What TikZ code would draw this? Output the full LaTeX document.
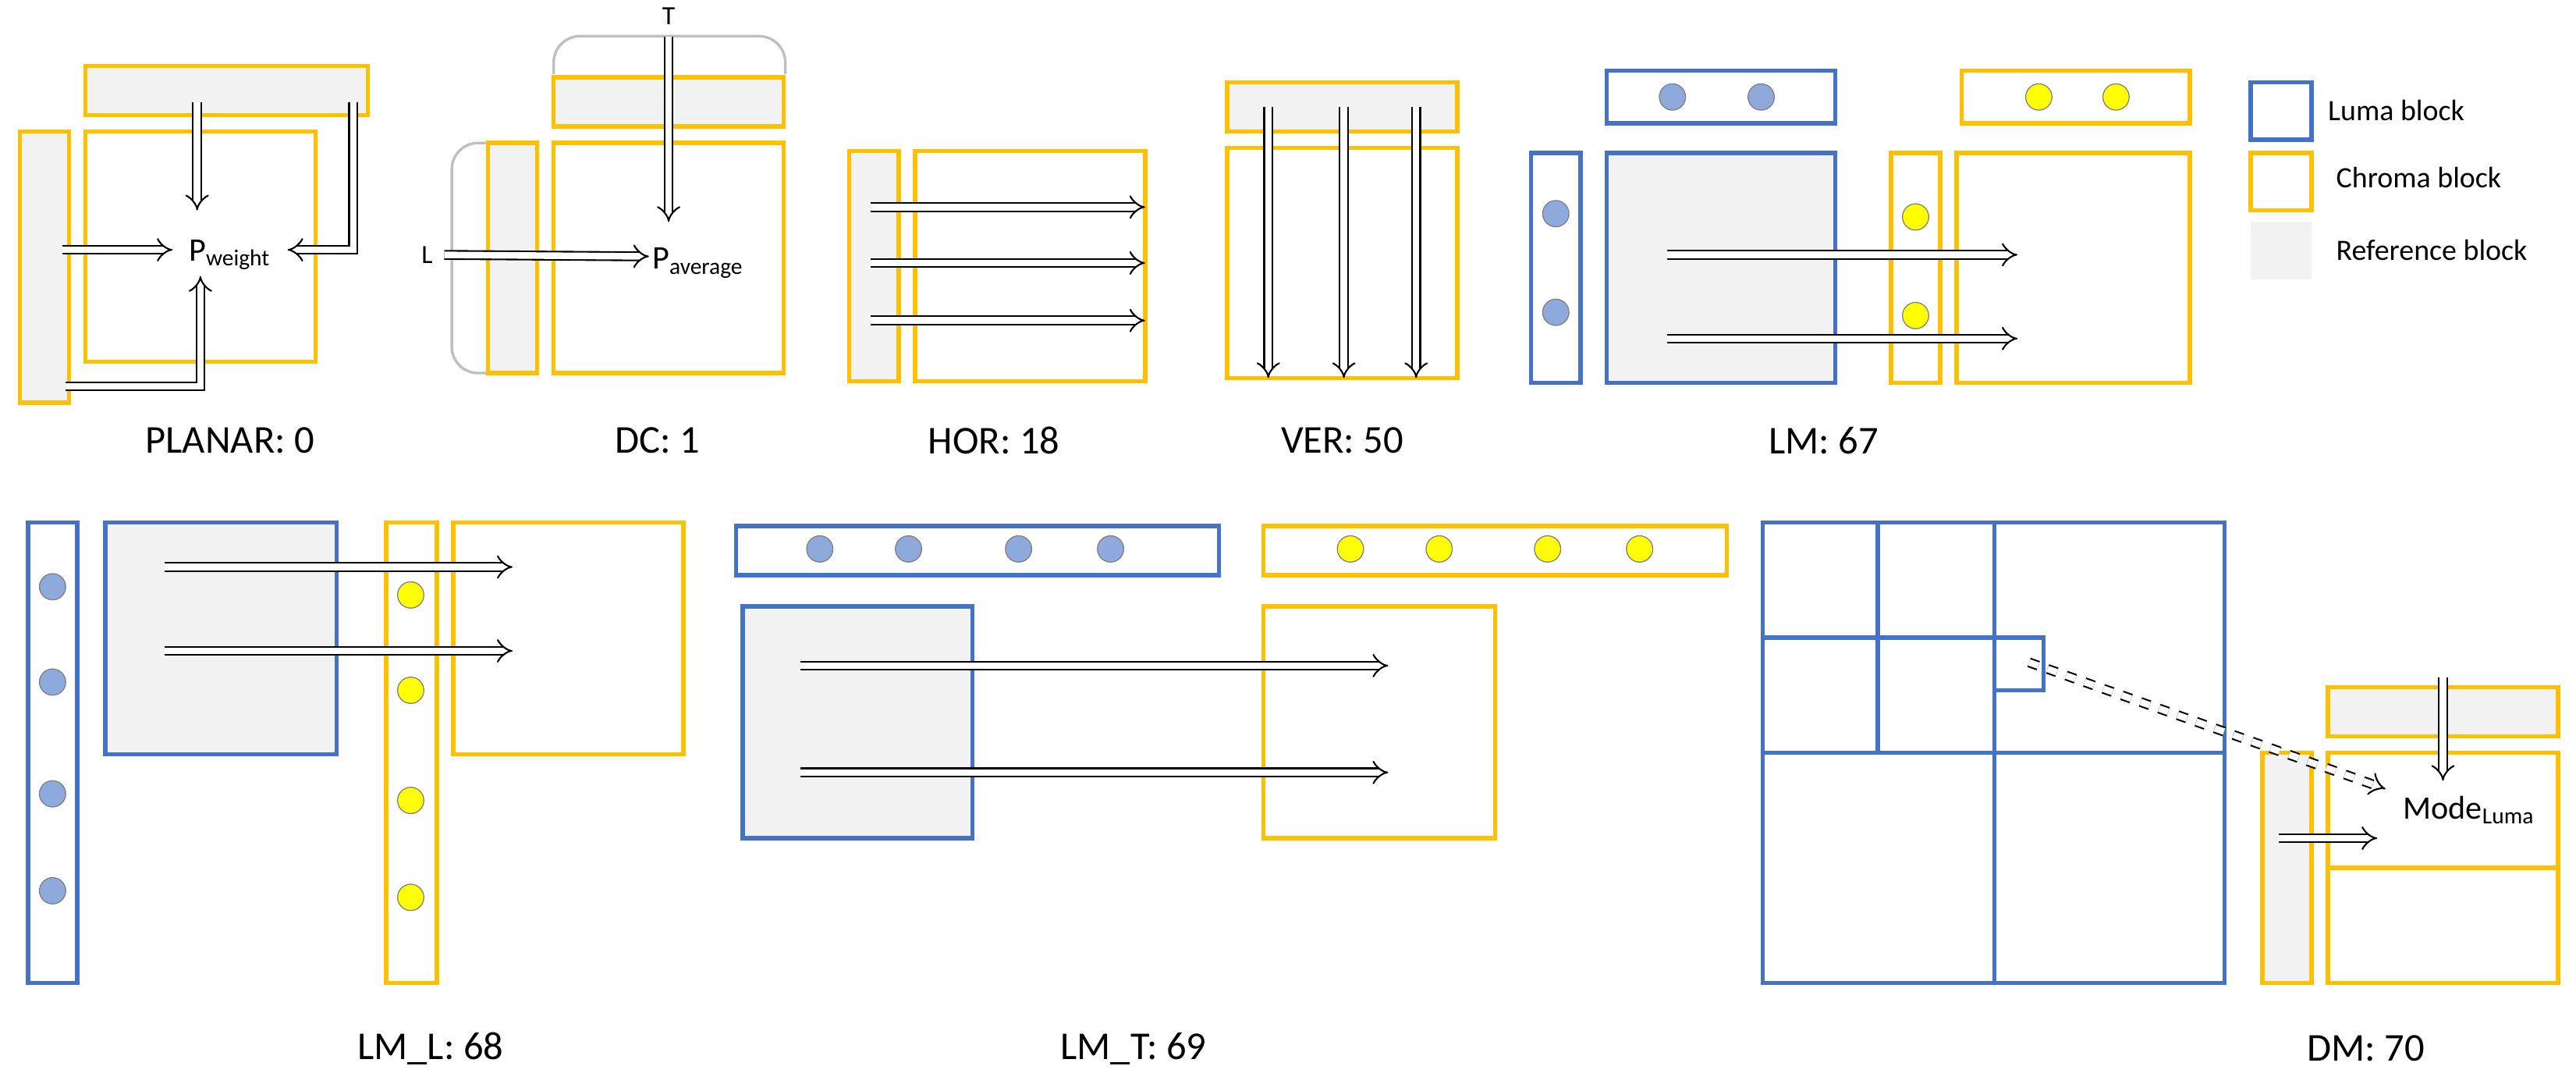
\documentclass[tikz,border=0pt]{standalone}
\usepackage{fontspec}
\setmainfont{Carlito}
\usetikzlibrary{arrows.meta}
\definecolor{lblue}{HTML}{4472C4}
\definecolor{lyel}{HTML}{FFC000}
\definecolor{lgray}{HTML}{F2F2F2}
\definecolor{cblue}{HTML}{8EA9DB}
\definecolor{cyel}{HTML}{FFFF00}
\begin{document}
\begin{tikzpicture}[x=0.5pt,y=-0.5pt,
 ch/.style={draw=lyel,line width=1.3pt},
 lu/.style={draw=lblue,line width=1.3pt},
 rf/.style={fill=lgray},
 arr/.style={double=white,draw=black,line width=0.5pt,double distance=2pt,-{Implies[scale=2.2]}},
 darr/.style={arr,dashed},
 bc/.style={circle,fill=cblue,draw=gray,line width=0.3pt,minimum size=8pt,inner sep=0pt},
 yc/.style={circle,fill=cyel,draw=gray,line width=0.3pt,minimum size=8pt,inner sep=0pt},
 lab/.style={font=\fontsize{12}{14}\selectfont},
 leg/.style={font=\fontsize{9}{11}\selectfont,anchor=west},
 bracket/.style={draw=gray!50,line width=0.8pt,rounded corners=8pt}]
\useasboundingbox (0,0) rectangle (1568,655);
% PLANAR
\draw[ch,rf] (52,40) rectangle (224,70);
\draw[ch] (52,80) rectangle (192,220);
\draw[ch,rf] (12,80) rectangle (42,245);
\node (pw) at (140,155) {P\textsubscript{\scriptsize weight}};
\coordinate (pl1) at (120,62); \coordinate (pl2) at (38,152); \coordinate (pl3) at (215,62); \coordinate (pl4) at (40,235);
\draw[arr] (pl1) -- (120,128);
\draw[arr] (pl2) -- (105,152);
\draw[arr] (pl3) -- (215,152) -- (175,152);
\draw[arr] (pl4) -- (122,235) -- (122,168);
\node[lab] (lp) at (140,268) {PLANAR: 0};
% DC
\draw[bracket] (337,45) -- (337,22) -- (478,22) -- (478,45);
\draw[bracket] (297,87) -- (275,87) -- (275,227) -- (297,227);
\node[font=\fontsize{8}{9}\selectfont] (T) at (407,10) {T};
\node[font=\fontsize{8}{9}\selectfont] (L) at (260,155) {L};
\draw[ch,rf] (337,47) rectangle (477,77);
\draw[ch] (337,87) rectangle (477,227);
\draw[ch,rf] (297,87) rectangle (327,227);
\draw[arr] (T) -- (407,135);
\draw[arr] (L) -- (395,156);
\node (pa) at (425,160) {P\textsubscript{\scriptsize average}};
\node[lab] at (400,268) {DC: 1};
% HOR
\draw[ch,rf] (517,92) rectangle (547,232);
\draw[ch] (557,92) rectangle (697,232);
\foreach \y in {126,160,195}{\coordinate (h\y) at (530,\y); \draw[arr] (h\y) -- (697,\y);}
\node[lab] at (605,268) {HOR: 18};
% VER
\draw[ch,rf] (747,50) rectangle (887,80);
\draw[ch] (747,90) rectangle (887,230);
\foreach \x in {772,818,862}{\coordinate (v\x) at (\x,65); \draw[arr] (v\x) -- (\x,230);}
\node[lab] at (817,268) {VER: 50};
% LM
\draw[lu] (978,43) rectangle (1117,75);
\node[bc] at (1018,59) {}; \node[bc] at (1072,59) {};
\draw[lu] (932,93) rectangle (962,233);
\node[bc] at (947,130) {}; \node[bc] at (947,190) {};
\draw[lu,rf] (978,93) rectangle (1117,233);
\draw[ch] (1194,43) rectangle (1333,75);
\node[yc] at (1241,59) {}; \node[yc] at (1288,59) {};
\draw[ch] (1151,93) rectangle (1181,233);
\node[yc] at (1166,132) {}; \node[yc] at (1166,192) {};
\draw[ch] (1191,93) rectangle (1333,233);
\coordinate (m1) at (1015,155); \coordinate (m2) at (1015,206);
\draw[arr] (m1) -- (1228,155);
\draw[arr] (m2) -- (1228,206);
\node[lab] at (1110,268) {LM: 67};
% Legend
\draw[lu] (1370,50) rectangle (1407,85); \node[leg] at (1410,67) {Luma block};
\draw[ch] (1370,93) rectangle (1407,128); \node[leg] at (1415,108) {Chroma block};
\fill[lgray] (1370,135) rectangle (1407,170); \node[leg] at (1415,152) {Reference block};
% LM_L
\draw[lu] (17,318) rectangle (47,598);
\foreach \y in {357,415,483,542}{\node[bc] at (32,\y) {};}
\draw[lu,rf] (64,318) rectangle (205,459);
\draw[ch] (235,318) rectangle (266,598);
\foreach \y in {362,420,487,546}{\node[yc] at (250,\y) {};}
\draw[ch] (276,318) rectangle (416,459);
\coordinate (ll1) at (100,345); \coordinate (ll2) at (100,396);
\draw[arr] (ll1) -- (312,345);
\draw[arr] (ll2) -- (312,396);
\node[lab] at (262,638) {LM\_L: 68};
% LM_T
\draw[lu] (448,320) rectangle (742,350);
\foreach \x in {499,553,620,676}{\node[bc] at (\x,334) {};}
\draw[lu,rf] (452,369) rectangle (592,510);
\draw[ch] (769,320) rectangle (1051,350);
\foreach \x in {822,876,942,998}{\node[yc] at (\x,334) {};}
\draw[ch] (769,369) rectangle (910,510);
\coordinate (lt1) at (487,405); \coordinate (lt2) at (487,470);
\draw[arr] (lt1) -- (845,405);
\draw[arr] (lt2) -- (845,470);
\node[lab] at (690,638) {LM\_T: 69};
% DM
\draw[lu] (1073,318) rectangle (1354,598);
\draw[lu] (1214,318) -- (1214,598);
\draw[lu] (1073,458) -- (1354,458);
\draw[lu] (1143,318) -- (1143,458);
\draw[lu] (1073,388) -- (1214,388);
\draw[lu] (1214,388) rectangle (1244,420);
\draw[ch,rf] (1417,418) rectangle (1557,448);
\draw[ch,rf] (1377,458) rectangle (1407,598);
\draw[ch] (1417,458) rectangle (1557,598);
\draw[ch] (1417,528) -- (1557,528);
\coordinate (d0) at (1235,403);
\draw[darr] (d0) -- (1452,480);
\coordinate (d1) at (1487,412); \coordinate (d2) at (1387,510);
\draw[arr] (d1) -- (1487,475);
\draw[arr] (d2) -- (1447,510);
\node (ml) at (1503,493) {Mode\textsubscript{\scriptsize Luma}};
\node[lab] at (1440,638) {DM: 70};
\end{tikzpicture}
\end{document}
